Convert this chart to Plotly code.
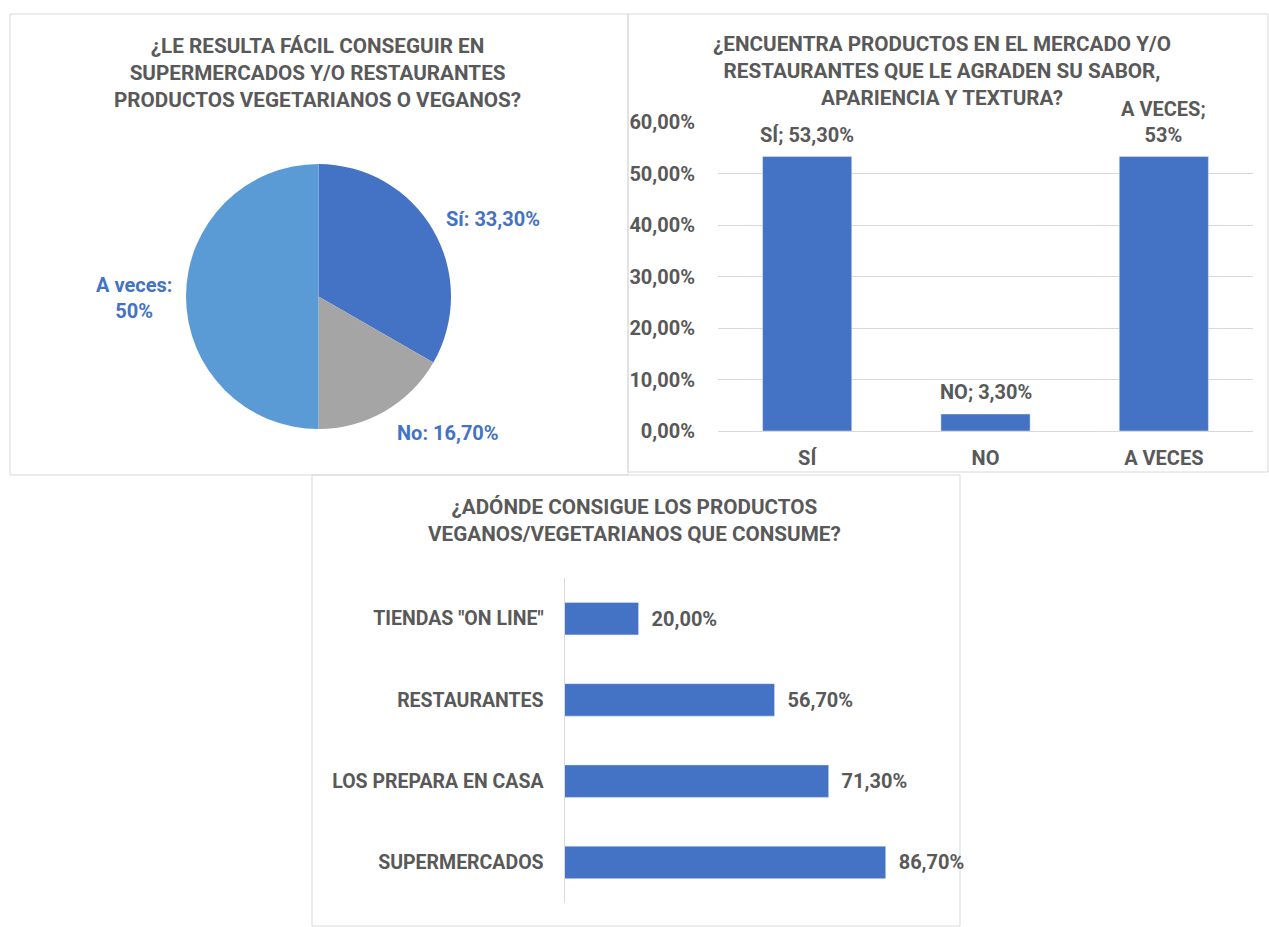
import plotly.graph_objects as go

W, H = 1269, 927

# ---------------- data ----------------
pie_title = "¿LE RESULTA FÁCIL CONSEGUIR EN<br>SUPERMERCADOS Y/O RESTAURANTES<br>PRODUCTOS VEGETARIANOS O VEGANOS?"
pie_labels = ["Sí", "No", "A veces"]
pie_values = [33.3, 16.7, 50.0]
pie_text = ["Sí: 33,30%", "No: 16,70%", "A veces:<br>50%"]

bar2_title = "¿ENCUENTRA PRODUCTOS EN EL MERCADO Y/O<br>RESTAURANTES QUE LE AGRADEN SU SABOR,<br>APARIENCIA Y TEXTURA?"
bar2_cats = ["SÍ", "NO", "A VECES"]
bar2_vals = [0.533, 0.033, 0.533]
bar2_text = ["SÍ; 53,30%", "NO; 3,30%", "A VECES;<br>53%"]
y2_tickvals = [0, 0.1, 0.2, 0.3, 0.4, 0.5, 0.6]
y2_ticktext = ["0,00%", "10,00%", "20,00%", "30,00%", "40,00%", "50,00%", "60,00%"]

bar3_title = "¿ADÓNDE CONSIGUE LOS PRODUCTOS<br>VEGANOS/VEGETARIANOS QUE CONSUME?"
bar3_cats = ['TIENDAS "ON LINE"', "RESTAURANTES", "LOS PREPARA EN CASA", "SUPERMERCADOS"]
bar3_vals = [0.20, 0.567, 0.713, 0.867]
bar3_text = ["20,00%", "56,70%", "71,30%", "86,70%"]

# ---------------- style ----------------
FONT = "Roboto"
GREY = "#595959"
GRID = "#D9D9D9"
BLUE = "#4472C4"
pie_colors = ["#4472C4", "#A5A5A5", "#5B9BD5"]


def px(x):
    return x / W


def py(y):
    return 1 - y / H


fig = go.Figure()

# Pie
fig.add_trace(go.Pie(
    labels=pie_labels, values=pie_values, sort=False, direction="clockwise",
    rotation=0, marker=dict(colors=pie_colors, line=dict(width=0)),
    textinfo="none", showlegend=False,
    domain=dict(x=[px(186), px(451)], y=[py(429), py(164)]),
))

# Vertical bars
fig.add_trace(go.Bar(
    x=bar2_cats, y=bar2_vals, marker_color=BLUE, width=0.5,
    xaxis="x", yaxis="y", showlegend=False,
))

# Horizontal bars
fig.add_trace(go.Bar(
    y=bar3_cats, x=bar3_vals, orientation="h", marker_color=BLUE, width=0.4,
    text=["\u00a0\u00a0" + t for t in bar3_text], textposition="outside",
    cliponaxis=False, constraintext="none",
    textfont=dict(family=FONT, size=20, color=GREY, weight="bold"),
    xaxis="x2", yaxis="y2", showlegend=False,
))

tickfont = dict(family=FONT, size=20, color=GREY, weight="bold")
tickfont3 = dict(family=FONT, size=19.5, color=GREY, weight="bold")

fig.update_layout(
    width=W, height=H, margin=dict(l=0, r=0, t=0, b=0, autoexpand=False),
    paper_bgcolor="white", plot_bgcolor="white",
    font=dict(family=FONT, color=GREY),
    xaxis=dict(domain=[px(718), px(1253)], type="category",
               showgrid=False, showline=False, zeroline=False,
               ticks="outside", ticklen=9, tickcolor="rgba(0,0,0,0)",
               tickfont=tickfont, anchor="y"),
    yaxis=dict(domain=[py(431), py(122)], range=[0, 0.6],
               tickvals=y2_tickvals, ticktext=y2_ticktext,
               showgrid=True, gridcolor=GRID, gridwidth=1,
               zeroline=True, zerolinecolor=GRID, zerolinewidth=1,
               showline=False, ticks="outside", ticklen=18,
               tickcolor="rgba(0,0,0,0)", tickfont=tickfont, anchor="x"),
    xaxis2=dict(domain=[px(564.5), px(935)], range=[0, 1],
                showgrid=False, showline=False, zeroline=False,
                showticklabels=False, anchor="y2"),
    yaxis2=dict(domain=[py(903), py(578)], type="category",
                autorange="reversed", showgrid=False,
                showline=True, linecolor=GRID, linewidth=1,
                ticks="outside", ticklen=16, tickcolor="rgba(0,0,0,0)",
                tickfont=tickfont3, anchor="x2"),
)

# bar value labels for chart 2, anchored on the data points
for c, v, t in zip(bar2_cats, bar2_vals, bar2_text):
    fig.add_annotation(text=t, x=c, y=v, xref="x", yref="y", showarrow=False,
                       font=dict(family=FONT, size=20, color=GREY, weight="bold"),
                       align="center", xanchor="center", yanchor="bottom",
                       yshift=8)

# panel borders
borders = [(10, 14, 628, 475), (628, 14, 1268, 472), (312, 475, 960, 926)]
for x0, y0, x1, y1 in borders:
    fig.add_shape(type="rect", xref="paper", yref="paper",
                  x0=px(x0), y0=py(y0), x1=px(x1), y1=py(y1),
                  line=dict(color=GRID, width=1), fillcolor="rgba(0,0,0,0)",
                  layer="below")

titlefont = dict(family=FONT, size=20.7, color=GREY, weight="bold")
fig.add_annotation(text=pie_title, x=px(318), y=py(73), xref="paper", yref="paper",
                   showarrow=False, font=titlefont, align="center",
                   xanchor="center", yanchor="middle")
fig.add_annotation(text=bar2_title, x=px(942), y=py(71), xref="paper", yref="paper",
                   showarrow=False, font=titlefont, align="center",
                   xanchor="center", yanchor="middle")
fig.add_annotation(text=bar3_title, x=px(635), y=py(520.5), xref="paper", yref="paper",
                   showarrow=False, font=titlefont, align="center",
                   xanchor="center", yanchor="middle")

# pie labels
pie_label_pos = [(492.5, 219), (447.5, 433), (134, 298)]
labfont = dict(family=FONT, size=20, color=BLUE, weight="bold")
for t, (lx, ly) in zip(pie_text, pie_label_pos):
    fig.add_annotation(text=t, x=px(lx), y=py(ly), xref="paper", yref="paper",
                       showarrow=False, font=labfont, align="center",
                       xanchor="center", yanchor="middle")

fig.write_html("out.html", config={"displayModeBar": False},
               post_script="document.body.style.margin='0';document.body.style.overflow='hidden';")
